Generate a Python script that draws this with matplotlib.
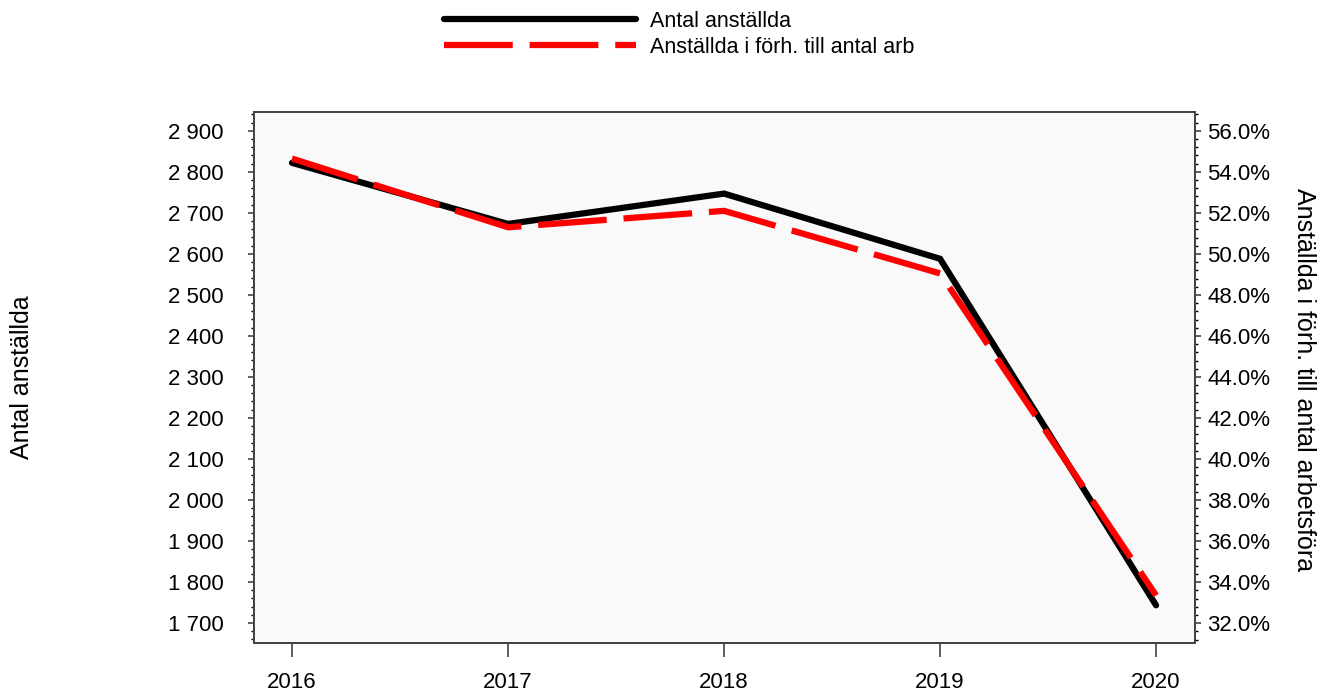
import matplotlib
matplotlib.use('Agg')
import matplotlib.pyplot as plt
from matplotlib.ticker import MultipleLocator, FuncFormatter
import numpy as np

plt.rcParams['font.family'] = ['Liberation Sans', 'DejaVu Sans']

years = [2016, 2017, 2018, 2019, 2020]
anstallda = [2822, 2673, 2747, 2588, 1743]
andel = [54.65, 51.3, 52.1, 49.05, 33.35]

lbl_antal = 'Antal anställda'
lbl_andel = 'Anställda i förh. till antal arb'
ylabel_right = 'Anställda i förh. till antal arbetsföra'

fig = plt.figure(figsize=(13.27, 6.96), dpi=100)
ax = fig.add_axes([0.1914, 0.0761, 0.7091, 0.763])
ax.set_facecolor('#f9f9f9')
ax2 = ax.twinx()

l1, = ax.plot(years, anstallda, color='black', lw=4.5, solid_capstyle='round',
              solid_joinstyle='miter', label=lbl_antal, zorder=2)
l2, = ax2.plot(years, andel, color='#ff0000', lw=4.5, dashes=(11, 2.7),
               dash_capstyle='butt', label=lbl_andel, zorder=3)

ax.set_xlim(2015.824, 2020.18)
ax.set_ylim(1651, 2946)
ax2.set_ylim(31.03, 56.92)

ax.set_xticks(years)
ax.yaxis.set_major_locator(MultipleLocator(100))
ax.yaxis.set_minor_locator(MultipleLocator(20))
ax.yaxis.set_major_formatter(FuncFormatter(lambda v, p: f'{int(v):,}'.replace(',', ' ')))
ax2.yaxis.set_major_locator(MultipleLocator(2))
ax2.yaxis.set_minor_locator(MultipleLocator(0.4))
ax2.yaxis.set_major_formatter(FuncFormatter(lambda v, p: f'{v:.1f}%'))

for a in (ax, ax2):
    for s in a.spines.values():
        s.set_color('#444444')
        s.set_linewidth(1.4)
    a.tick_params(labelsize=16, colors='#444444', labelcolor='black')
ax.tick_params(axis='x', length=10, pad=11, width=1.2)
ax.tick_params(axis='y', which='major', length=4, width=1.2, pad=18)
ax.tick_params(axis='y', which='minor', length=2.5, width=1)
ax2.tick_params(axis='y', which='major', length=4, width=1.2, pad=5)
ax2.tick_params(axis='y', which='minor', length=2.5, width=1)

fig.text(0.0166, 0.458, lbl_antal, rotation=90, ha='center', va='center', fontsize=18)
fig.text(0.983, 0.455, ylabel_right, rotation=270, ha='center', va='center', fontsize=18)

fig.legend([l1, l2], [lbl_antal, lbl_andel], loc='upper left',
           bbox_to_anchor=(0.32, 1.012), frameon=False, fontsize=15.5,
           handlelength=8.9, handletextpad=0.65, labelspacing=0.22)

fig.savefig('out.png', dpi=100)
